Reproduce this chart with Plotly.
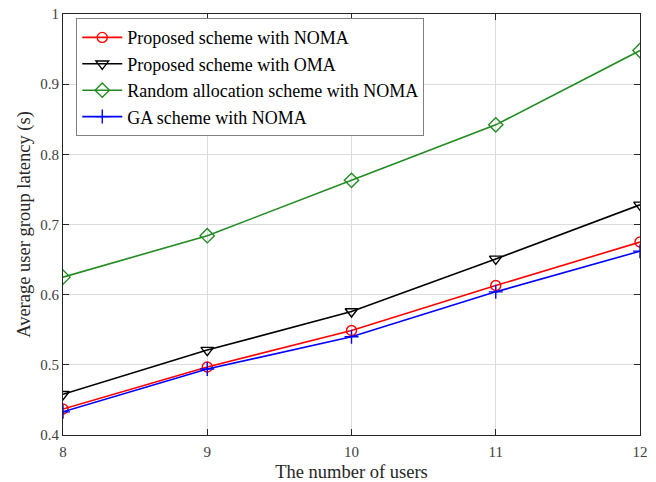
import plotly.graph_objects as go

users = [8, 9, 10, 11, 12]
noma = [0.437, 0.497, 0.549, 0.613, 0.675]
oma = [0.458, 0.521, 0.576, 0.651, 0.728]
rand_noma = [0.625, 0.684, 0.763, 0.842, 0.948]
ga_noma = [0.433, 0.494, 0.540, 0.604, 0.662]

names = ["Proposed scheme with NOMA", "Proposed scheme with OMA",
         "Random allocation scheme with NOMA", "GA scheme with NOMA"]
colors = ["#ff0000", "#000000", "#228b22", "#0000ff"]
symbols = ["circle-open", "triangle-down-open", "diamond-open", "cross-thin-open"]
sizes = [10, 11, 11, 10]
series = [noma, oma, rand_noma, ga_noma]

fig = go.Figure()
for n, c, s, sz, v in zip(names, colors, symbols, sizes, series):
    fig.add_trace(go.Scatter(
        x=users, y=v, mode="lines+markers", name=n,
        line=dict(color=c, width=1.6),
        marker=dict(symbol=s, size=sz, color=c, line=dict(color=c, width=1.4)),
    ))

font_family = "Liberation Serif, Times New Roman, serif"
axis_common = dict(
    showline=True, linecolor="#262626", linewidth=1, mirror="ticks",
    ticks="inside", ticklen=6, tickcolor="#262626",
    showgrid=True, gridcolor="#dcdcdc", gridwidth=1, zeroline=False,
    tickfont=dict(family=font_family, size=15, color="#404040"),
    automargin=False,
)
fig.update_layout(
    width=656, height=482,
    margin=dict(l=63, r=16, t=14, b=47),
    paper_bgcolor="white", plot_bgcolor="white",
    font=dict(family=font_family, color="#262626"),
    xaxis=dict(range=[8, 12], dtick=1, ticklabelstandoff=3,
               title=dict(text="The number of users", font=dict(size=18.5, family=font_family), standoff=10),
               **axis_common),
    yaxis=dict(range=[0.4, 1.0], dtick=0.1, tickformat="~g",
               title=dict(text="Average user group latency (s)", font=dict(size=18.5, family=font_family), standoff=4),
               **axis_common),
    legend=dict(x=0.023, y=0.99, xanchor="left", yanchor="top",
                bgcolor="white", bordercolor="#808080", borderwidth=1,
                font=dict(family=font_family, size=18, color="#000000"),
                tracegroupgap=0, itemwidth=40),
    showlegend=True,
)
fig.write_html("out.html")
